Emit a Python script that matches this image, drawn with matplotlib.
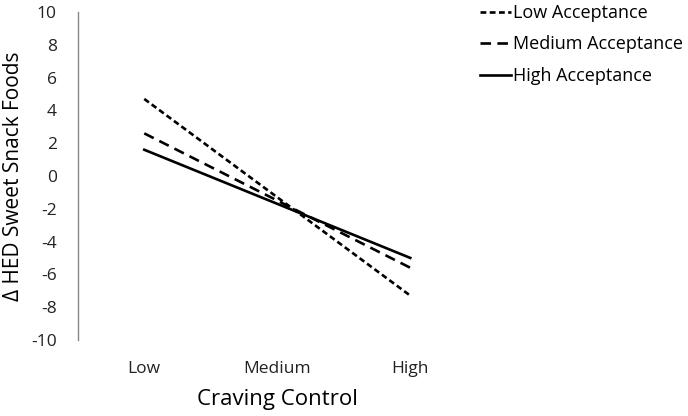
import matplotlib
matplotlib.use('Agg')
import matplotlib.pyplot as plt

categories = ['Low', 'Medium', 'High']
low_acceptance = [4.7, -1.3, -7.3]
medium_acceptance = [2.6, -1.5, -5.6]
high_acceptance = [1.6, -1.7, -5.0]
y_ticks = list(range(-10, 11, 2))

plt.rcParams['font.family'] = ['Open Sans', 'DejaVu Sans']
plt.rcParams['axes.unicode_minus'] = False

fig = plt.figure(figsize=(6.88, 4.16), dpi=100)
ax = fig.add_axes([0.113, 0.183, 0.58, 0.788])

x = range(len(categories))
ax.plot(x, low_acceptance, color='black', lw=1.9, dashes=(2.2, 1.3), label='Low Acceptance')
ax.plot(x, medium_acceptance, color='black', lw=1.9, dashes=(4.0, 2.4), label='Medium Acceptance')
ax.plot(x, high_acceptance, color='black', lw=1.9, label='High Acceptance')

ax.set_xlim(-0.5, 2.5)
ax.set_ylim(-10, 10)
ax.set_yticks(y_ticks)
ax.set_xticks(list(x))
ax.set_xticklabels(categories)
ax.tick_params(axis='both', length=0, labelsize=12.5, colors='#222222')
ax.tick_params(axis='y', pad=15)
ax.tick_params(axis='x', pad=15)

for s in ['top', 'right', 'bottom']:
    ax.spines[s].set_visible(False)
ax.spines['left'].set_color('#888888')
ax.spines['left'].set_linewidth(1)

ax.set_xlabel('Craving Control', fontsize=16, labelpad=9)
ax.set_ylabel('Δ HED Sweet Snack Foods', fontsize=15)
ax.yaxis.set_label_coords(-0.135, 0.5)

ax.legend(loc='upper left', bbox_to_anchor=(0.695, 0.995), bbox_transform=fig.transFigure,
          frameon=False, fontsize=13, borderaxespad=0, borderpad=0.1,
          handlelength=1.7, handletextpad=0.15, labelspacing=0.75)

fig.savefig('out.png', dpi=100)
